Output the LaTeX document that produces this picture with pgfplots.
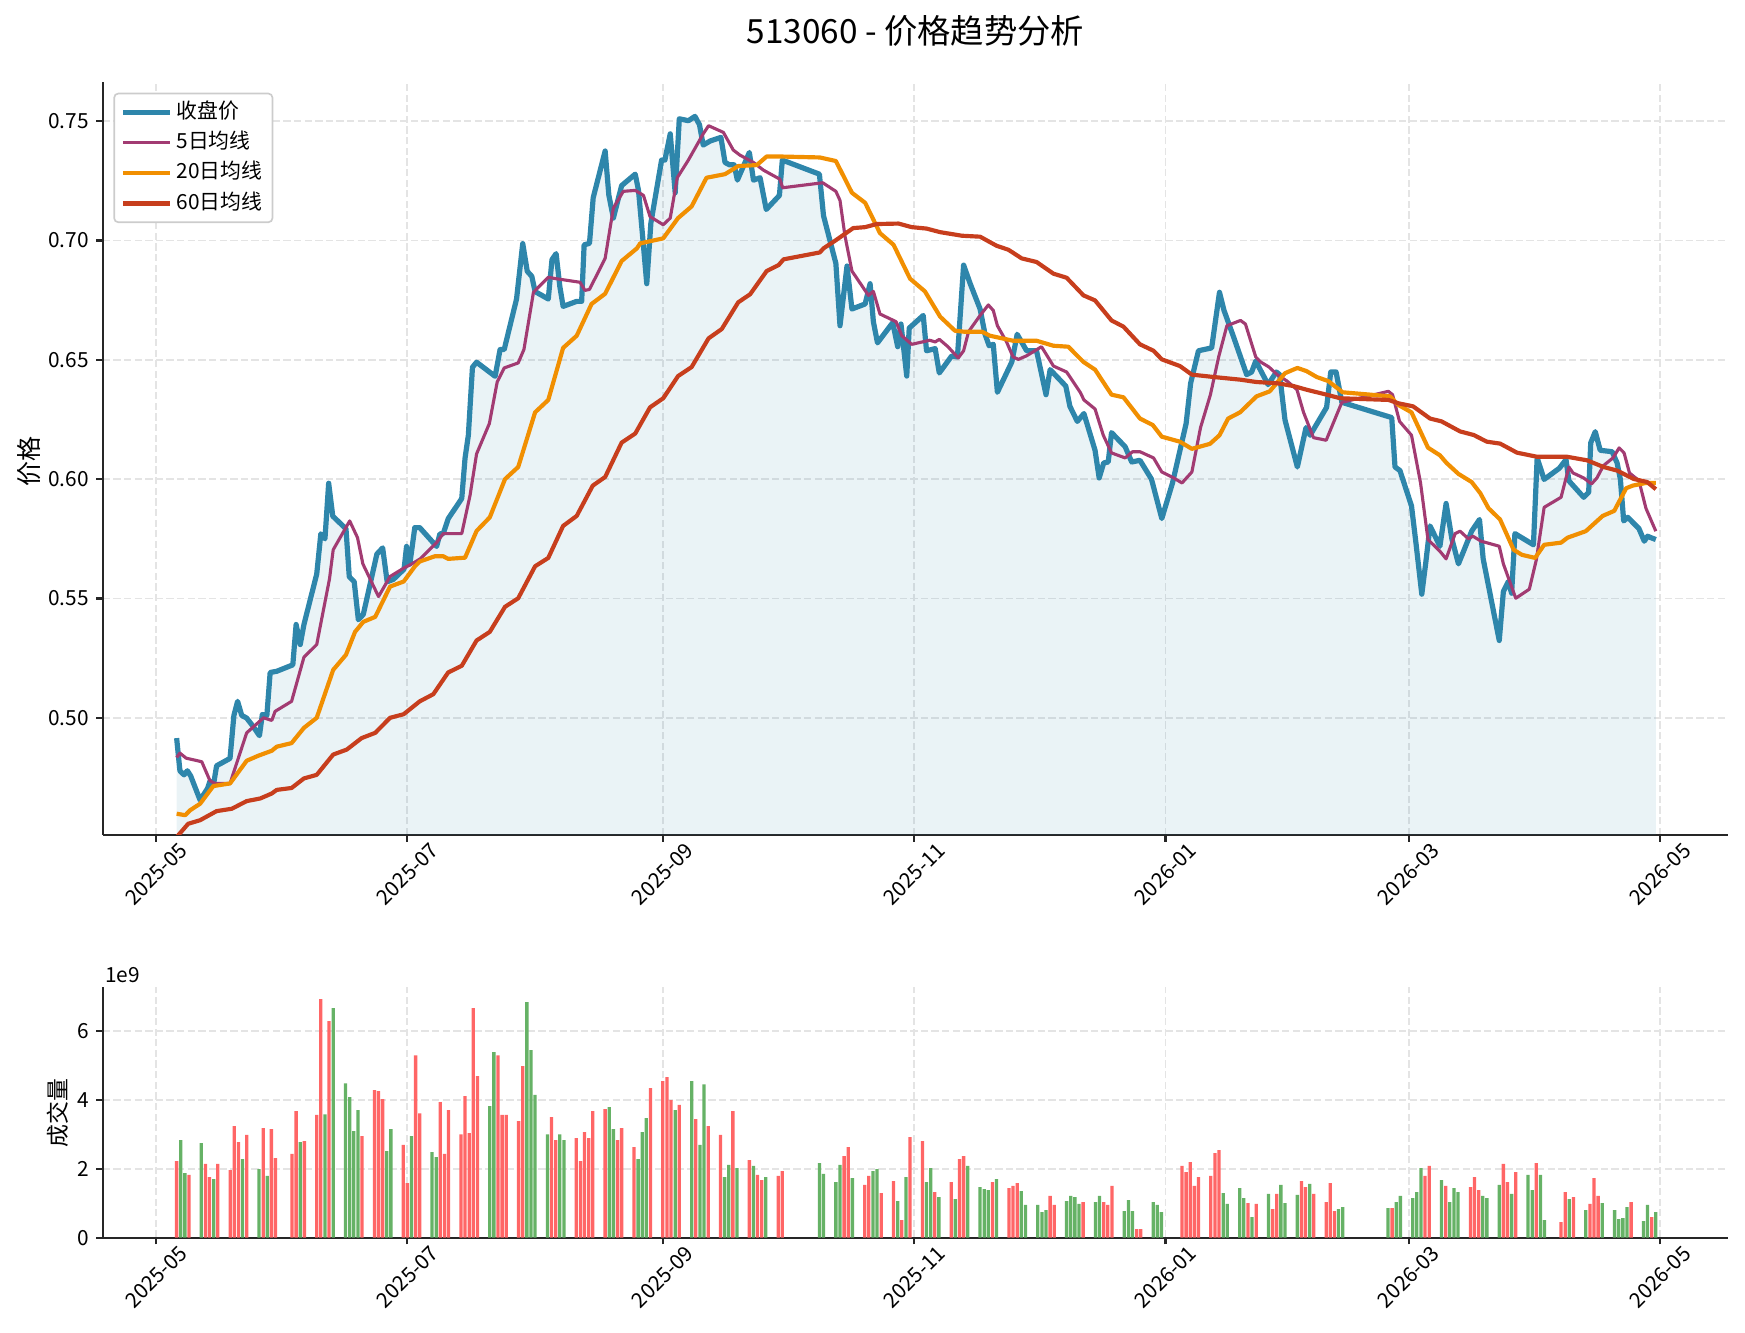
\documentclass[border=0pt]{standalone}
\usepackage{fontspec}
\setmainfont{Noto Sans CJK SC}
\usepackage{pgfplots}
\pgfplotsset{compat=1.18}
\definecolor{cClose}{HTML}{2E86AB}
\definecolor{cMAf}{HTML}{A23B72}
\definecolor{cMAt}{HTML}{F18F01}
\definecolor{cMAs}{HTML}{C73E1D}
\definecolor{upR}{HTML}{FF6666}
\definecolor{dnG}{HTML}{66B266}
\definecolor{gridc}{HTML}{E4E4E4}
\definecolor{spine}{HTML}{262626}
\pgfplotsset{
  base/.style={
    scale only axis, width=780.1pt,
    xmin=-12.94, xmax=381.5,
    axis lines*=left,
    axis line style={spine, line width=1pt},
    tick align=outside, major tick length=3.2pt,
    tick style={spine, line width=1pt},
    grid=major,
    major grid style={gridc, line width=0.9pt, dash pattern=on 3.5pt off 1.6pt},
    xtick={0,61,123,184,245,304,365},
    xticklabels={2025-05,2025-07,2025-09,2025-11,2026-01,2026-03,2026-05},
    ticklabel style={font=\fontsize{10}{12}\selectfont, text=black},
    x tick label style={anchor=center, yshift=-15.5pt, rotate=45},
    /pgf/number format/assume math mode=true,
    clip=true,
  }
}
\begin{document}
\begin{tikzpicture}
\useasboundingbox (0,0) rectangle (837.6pt,639.4pt);
\begin{axis}[base,
  at={(49.3pt,238.6pt)}, anchor=south west, height=361.3pt,
  ymin=0.4509, ymax=0.7663,
  ytick={0.50,0.55,0.60,0.65,0.70,0.75},
  yticklabel style={/pgf/number format/.cd, fixed, fixed zerofill, precision=2},
  legend style={at={(0,1)}, anchor=north west, xshift=5.1pt, yshift=-5pt,
    draw=black!20, line width=0.8pt, rounded corners=2pt, fill=white,
    font=\fontsize{10}{12}\selectfont, row sep=2.6pt, inner xsep=3pt, inner ysep=3pt,
    nodes={text height=7.8pt, text depth=2.2pt, inner ysep=1pt, inner xsep=2pt}},
  legend cell align=left,
  legend image code/.code={\draw[#1, line cap=butt] (0pt,0pt) -- (22.4pt,0pt);},
]
\addplot[draw=none, fill=cClose, fill opacity=0.1, forget plot] coordinates {
(5,0.4915)(5.8,0.4778)(6.8,0.4761)(7.6,0.4778)(8.4,0.4757)(10.7,0.4655)(12.5,0.4704)(13.1,0.4735)(13.9,0.4714)(14.7,0.4799)
(17.96,0.4830)(18.9,0.5010)(19.8,0.5069)(20.8,0.5010)(22.0,0.4999)(23.6,0.4963)(25.1,0.4925)(25.8,0.5014)(26.9,0.5010)(27.7,0.5190)
(29.3,0.5195)(33.2,0.5222)(34.0,0.5391)(35.0,0.5307)(35.9,0.5391)(39.0,0.5602)(40.0,0.5771)(41.0,0.5750)(41.9,0.5983)(42.9,0.5845)
(46.1,0.5792)(46.9,0.5591)(48.1,0.5570)(49.1,0.5411)(50.3,0.5433)(53.6,0.5686)(55.0,0.5712)(56.1,0.5570)(57.6,0.5580)(60.2,0.5623)
(60.8,0.5718)(61.6,0.5644)(62.8,0.5797)(64.0,0.5797)(68.1,0.5718)(68.9,0.5771)(69.7,0.5771)(70.9,0.5834)(74.2,0.5919)(75.0,0.6088)
(75.8,0.6184)(76.8,0.6469)(77.8,0.6490)(82.3,0.6431)(83.5,0.6543)(84.5,0.6543)(87.5,0.6755)(89.0,0.6987)(90.1,0.6871)(91.2,0.6850)
(92.0,0.6786)(95.2,0.6755)(96.1,0.6920)(97.1,0.6945)(98.0,0.6808)(98.8,0.6724)(102.1,0.6745)(103.3,0.6745)(103.9,0.6982)(105.2,0.6988)
(106.1,0.7179)(109.0,0.7375)(109.9,0.7190)(111.0,0.7094)(113.0,0.7230)(116.3,0.7278)(117.1,0.7210)(118.3,0.6978)(119.1,0.6819)(120.1,0.7073)
(122.7,0.7337)(123.5,0.7337)(124.8,0.7447)(126.0,0.7200)(127.0,0.7510)(129.2,0.7502)(130.8,0.7520)(131.9,0.7485)(132.8,0.7400)(134.5,0.7417)
(137.1,0.7432)(138.1,0.7327)(139.2,0.7317)(140.3,0.7317)(141.1,0.7253)(144.0,0.7369)(145.0,0.7253)(146.6,0.7263)(148.1,0.7130)(151.3,0.7189)
(152,0.7337)(161,0.7278)(162,0.7104)(165,0.6904)(166.0,0.6643)(167.7,0.6893)(168.9,0.6713)(172.1,0.6734)(173.3,0.6819)(174.1,0.6660)
(175.1,0.6571)(178.8,0.6656)(180.0,0.6555)(180.8,0.6650)(182.2,0.6432)(182.8,0.6633)(186.2,0.6686)(187.0,0.6538)(189.1,0.6547)(190.1,0.6445)
(193.1,0.6516)(194.5,0.6512)(196.0,0.6897)(197.6,0.6819)(200.0,0.6713)(201.2,0.6607)(202.2,0.6559)(203.2,0.6565)(204.2,0.6364)(207.7,0.6491)
(209.0,0.6607)(211.3,0.6538)(213.7,0.6538)(216.0,0.6354)(217.0,0.6459)(220.8,0.6390)(221.8,0.6305)(223.6,0.6242)(225.2,0.6275)(227.9,0.6121)
(228.9,0.6005)(230.0,0.6068)(231.1,0.6072)(231.9,0.6195)(235.2,0.6136)(236.8,0.6072)(238.8,0.6079)(241.6,0.6000)(244.1,0.5835)(246.7,0.5984)
(250.0,0.6233)(251.1,0.6402)(253.0,0.6538)(256.2,0.6550)(258.1,0.6783)(259.2,0.6707)(261.5,0.6597)(264.7,0.6438)(265.9,0.6449)(266.9,0.6495)
(269.9,0.6396)(271.9,0.6449)(272.7,0.6438)(274.0,0.6248)(277.0,0.6051)(279.1,0.6216)(280.1,0.6184)(284.1,0.6301)(285.1,0.6449)(286.4,0.6449)
(287.8,0.6322)(299.9,0.6258)(300.7,0.6051)(301.9,0.6036)(304.7,0.5888)(305.8,0.5730)(307.2,0.5518)(308.2,0.5655)(309.2,0.5804)(311.6,0.5719)
(313.1,0.5898)(314.5,0.5750)(316.1,0.5645)(319.3,0.5782)(321.2,0.5831)(322.1,0.5666)(326.0,0.5324)(327.0,0.5529)(328.2,0.5571)(329.0,0.5522)
(329.8,0.5772)(334.3,0.5725)(335.2,0.6089)(336.9,0.5999)(340.6,0.6046)(342.2,0.6082)(342.9,0.5993)(346.5,0.5924)(347.7,0.5945)(348.2,0.6152)
(349.3,0.6199)(350.5,0.6121)(353.4,0.6115)(354.6,0.6068)(355.4,0.5999)(356.2,0.5825)(357.2,0.5840)(359.9,0.5793)(361.2,0.5740)(362.0,0.5761)
(362.8,0.5755)(364,0.5747)
} \closedcycle;
\addplot[cClose, line width=2.5pt, line join=round] coordinates {
(5,0.4915)(5.8,0.4778)(6.8,0.4761)(7.6,0.4778)(8.4,0.4757)(10.7,0.4655)(12.5,0.4704)(13.1,0.4735)(13.9,0.4714)(14.7,0.4799)
(17.96,0.4830)(18.9,0.5010)(19.8,0.5069)(20.8,0.5010)(22.0,0.4999)(23.6,0.4963)(25.1,0.4925)(25.8,0.5014)(26.9,0.5010)(27.7,0.5190)
(29.3,0.5195)(33.2,0.5222)(34.0,0.5391)(35.0,0.5307)(35.9,0.5391)(39.0,0.5602)(40.0,0.5771)(41.0,0.5750)(41.9,0.5983)(42.9,0.5845)
(46.1,0.5792)(46.9,0.5591)(48.1,0.5570)(49.1,0.5411)(50.3,0.5433)(53.6,0.5686)(55.0,0.5712)(56.1,0.5570)(57.6,0.5580)(60.2,0.5623)
(60.8,0.5718)(61.6,0.5644)(62.8,0.5797)(64.0,0.5797)(68.1,0.5718)(68.9,0.5771)(69.7,0.5771)(70.9,0.5834)(74.2,0.5919)(75.0,0.6088)
(75.8,0.6184)(76.8,0.6469)(77.8,0.6490)(82.3,0.6431)(83.5,0.6543)(84.5,0.6543)(87.5,0.6755)(89.0,0.6987)(90.1,0.6871)(91.2,0.6850)
(92.0,0.6786)(95.2,0.6755)(96.1,0.6920)(97.1,0.6945)(98.0,0.6808)(98.8,0.6724)(102.1,0.6745)(103.3,0.6745)(103.9,0.6982)(105.2,0.6988)
(106.1,0.7179)(109.0,0.7375)(109.9,0.7190)(111.0,0.7094)(113.0,0.7230)(116.3,0.7278)(117.1,0.7210)(118.3,0.6978)(119.1,0.6819)(120.1,0.7073)
(122.7,0.7337)(123.5,0.7337)(124.8,0.7447)(126.0,0.7200)(127.0,0.7510)(129.2,0.7502)(130.8,0.7520)(131.9,0.7485)(132.8,0.7400)(134.5,0.7417)
(137.1,0.7432)(138.1,0.7327)(139.2,0.7317)(140.3,0.7317)(141.1,0.7253)(144.0,0.7369)(145.0,0.7253)(146.6,0.7263)(148.1,0.7130)(151.3,0.7189)
(152,0.7337)(161,0.7278)(162,0.7104)(165,0.6904)(166.0,0.6643)(167.7,0.6893)(168.9,0.6713)(172.1,0.6734)(173.3,0.6819)(174.1,0.6660)
(175.1,0.6571)(178.8,0.6656)(180.0,0.6555)(180.8,0.6650)(182.2,0.6432)(182.8,0.6633)(186.2,0.6686)(187.0,0.6538)(189.1,0.6547)(190.1,0.6445)
(193.1,0.6516)(194.5,0.6512)(196.0,0.6897)(197.6,0.6819)(200.0,0.6713)(201.2,0.6607)(202.2,0.6559)(203.2,0.6565)(204.2,0.6364)(207.7,0.6491)
(209.0,0.6607)(211.3,0.6538)(213.7,0.6538)(216.0,0.6354)(217.0,0.6459)(220.8,0.6390)(221.8,0.6305)(223.6,0.6242)(225.2,0.6275)(227.9,0.6121)
(228.9,0.6005)(230.0,0.6068)(231.1,0.6072)(231.9,0.6195)(235.2,0.6136)(236.8,0.6072)(238.8,0.6079)(241.6,0.6000)(244.1,0.5835)(246.7,0.5984)
(250.0,0.6233)(251.1,0.6402)(253.0,0.6538)(256.2,0.6550)(258.1,0.6783)(259.2,0.6707)(261.5,0.6597)(264.7,0.6438)(265.9,0.6449)(266.9,0.6495)
(269.9,0.6396)(271.9,0.6449)(272.7,0.6438)(274.0,0.6248)(277.0,0.6051)(279.1,0.6216)(280.1,0.6184)(284.1,0.6301)(285.1,0.6449)(286.4,0.6449)
(287.8,0.6322)(299.9,0.6258)(300.7,0.6051)(301.9,0.6036)(304.7,0.5888)(305.8,0.5730)(307.2,0.5518)(308.2,0.5655)(309.2,0.5804)(311.6,0.5719)
(313.1,0.5898)(314.5,0.5750)(316.1,0.5645)(319.3,0.5782)(321.2,0.5831)(322.1,0.5666)(326.0,0.5324)(327.0,0.5529)(328.2,0.5571)(329.0,0.5522)
(329.8,0.5772)(334.3,0.5725)(335.2,0.6089)(336.9,0.5999)(340.6,0.6046)(342.2,0.6082)(342.9,0.5993)(346.5,0.5924)(347.7,0.5945)(348.2,0.6152)
(349.3,0.6199)(350.5,0.6121)(353.4,0.6115)(354.6,0.6068)(355.4,0.5999)(356.2,0.5825)(357.2,0.5840)(359.9,0.5793)(361.2,0.5740)(362.0,0.5761)
(362.8,0.5755)(364,0.5747)
};
\addlegendentry{收盘价}
\addplot[cMAf, line width=1.5pt, line join=round] coordinates {
(5,0.4834)(5.8,0.4852)(7.3,0.4831)(11.1,0.4816)(13.1,0.4736)(14.3,0.4725)(17.96,0.4725)(22.0,0.4937)(26.1,0.5)(28.1,0.4989)
(28.9,0.5027)(32.9,0.5069)(35.9,0.5254)(39.0,0.5307)(42.1,0.5582)(43.0,0.5704)(47.0,0.5825)(48.9,0.5755)(50.2,0.5645)(54.0,0.5508)
(56.8,0.5592)(60.2,0.5628)(62.1,0.5645)(64.1,0.5666)(68.1,0.5734)(69.7,0.5772)(74.2,0.5772)(76.2,0.5931)(77.8,0.6106)(80.9,0.6233)
(82.8,0.6407)(84.5,0.6466)(87.9,0.6487)(89.3,0.6544)(91.6,0.6783)(95.2,0.6846)(97.1,0.684)(102.9,0.6825)(104.1,0.6791)(105.2,0.6795)
(109.0,0.6925)(111.0,0.7136)(113.4,0.7206)(116.3,0.721)(118.3,0.7189)(119.9,0.71)(123.1,0.7066)(124.8,0.7094)(126.5,0.7263)(129.2,0.7337)
(132.8,0.7447)(134.1,0.7481)(137.7,0.7453)(140.1,0.7379)(141.7,0.7358)(145.0,0.7327)(147.4,0.7295)(151.4,0.7257)(152.1,0.7221)(161.8,0.7242)
(165.0,0.7206)(166.0,0.7168)(167.2,0.702)(168.9,0.6872)(172.9,0.677)(174.1,0.6787)(175.7,0.6692)(179.6,0.666)(181.0,0.6601)(183.4,0.6565)
(187.8,0.6582)(189.1,0.6575)(190.1,0.6586)(192.2,0.6555)(194.7,0.6508)(196.0,0.6538)(197.2,0.6618)(200.0,0.6686)(202.0,0.673)(203.2,0.6707)
(204.2,0.6643)(206.4,0.6576)(208.0,0.6512)(209.3,0.6502)(211.3,0.6517)(214.9,0.6555)(215.7,0.6533)(217.8,0.6474)(221.0,0.6449)(224.3,0.6364)
(225.2,0.6332)(227.9,0.6294)(229.9,0.6184)(231.9,0.611)(235.2,0.6089)(237.0,0.6115)(238.8,0.6115)(242.1,0.6089)(244.1,0.603)(247.0,0.6005)
(249.0,0.5984)(251.4,0.603)(253.5,0.6216)(255.9,0.6354)(257.9,0.6512)(259.9,0.6643)(263.2,0.6665)(264.4,0.665)(266.9,0.6512)(268.1,0.6491)
(270.1,0.647)(272.1,0.6438)(274.5,0.6411)(276.9,0.6375)(278.5,0.628)(280.9,0.6174)(284.0,0.6163)(287.8,0.6322)(299.1,0.6368)(300.1,0.6354)
(301.8,0.6242)(304.7,0.6184)(306.9,0.5984)(308.7,0.5747)(311.6,0.5698)(313.1,0.5666)(315.3,0.5772)(316.5,0.5782)(318.5,0.575)(319.6,0.5761)
(321.6,0.574)(326.0,0.5719)(327.0,0.5645)(330.0,0.5501)(333.3,0.5539)(335.0,0.5662)(336.9,0.5882)(341.0,0.5924)(342.9,0.6051)(343.9,0.6026)
(346.5,0.6005)(348.4,0.598)(349.7,0.6005)(351.3,0.6057)(353.6,0.6089)(355.1,0.6131)(356.3,0.611)(357.6,0.6026)(359.9,0.5994)(361.6,0.5878)
(364,0.5782)
};
\addlegendentry{5日均线}
\addplot[cMAt, line width=2pt, line join=round] coordinates {
(5,0.4598)(7.1,0.4592)(8.3,0.4613)(10.7,0.464)(13.9,0.4714)(17.96,0.4725)(22.0,0.482)(24.8,0.4841)(28.1,0.4862)(29.3,0.4879)
(32.9,0.4894)(35.9,0.4958)(39.0,0.5)(43.0,0.5201)(46.1,0.5264)(48.3,0.536)(50.3,0.5402)(53.2,0.5423)(56.8,0.555)(60.1,0.5571)
(62.8,0.5634)(64.0,0.5655)(67.7,0.5677)(69.7,0.5677)(70.9,0.5666)(75.0,0.5671)(77.8,0.5783)(81.0,0.584)(84.7,0.6)(87.9,0.6051)
(92.0,0.628)(95.2,0.6332)(98.8,0.655)(102.1,0.6601)(105.7,0.6734)(109.0,0.6777)(113.0,0.6914)(116.7,0.6967)(117.5,0.6988)(123.1,0.7009)
(126.7,0.7094)(130.0,0.7143)(133.6,0.7263)(138.1,0.7278)(141.3,0.7312)(145.8,0.7316)(148.2,0.7352)(151.4,0.7352)(161.1,0.7348)(165.0,0.7333)
(168.9,0.72)(172.1,0.7158)(175.7,0.7031)(179.0,0.6982)(183.0,0.684)(186.6,0.6787)(190.3,0.6681)(193.9,0.6622)(196.0,0.6618)(200.4,0.6618)
(202.4,0.6601)(208.0,0.658)(213.7,0.658)(217.8,0.6559)(221.4,0.6555)(225.1,0.6491)(227.9,0.6459)(231.9,0.6354)(234.8,0.6343)(238.8,0.6254)
(241.9,0.6227)(244.1,0.6178)(248.5,0.6157)(251.4,0.6127)(255.8,0.6148)(258.1,0.6184)(260.2,0.6254)(263.1,0.628)(267.1,0.6347)(270.3,0.6368)
(274.0,0.6444)(277.0,0.6466)(279.2,0.6453)(281.7,0.6428)(284.5,0.6411)(288.0,0.6364)(299.5,0.6347)(301.5,0.6311)(304.7,0.628)(306.7,0.6206)
(308.7,0.6132)(311.6,0.61)(313.2,0.6068)(316.1,0.6022)(319.3,0.5988)(321.4,0.5941)(323.4,0.5878)(326.2,0.5831)(329.5,0.5704)(331.5,0.5683)
(334.7,0.567)(336.9,0.5725)(341.0,0.5734)(342.6,0.5755)(347.0,0.5782)(351.1,0.5846)(353.9,0.5867)(356.8,0.5962)(358.4,0.5973)(361.6,0.5984)
(364,0.5984)
};
\addlegendentry{20日均线}
\addplot[cMAs, line width=2pt, line join=round] coordinates {
(5,0.4500)(7.8,0.4556)(10.7,0.4571)(14.7,0.4609)(18.4,0.4619)(22.0,0.4651)(25.3,0.4662)(28.1,0.4683)(29.3,0.4698)(32.9,0.4706)
(35.9,0.4746)(39.0,0.4761)(43.0,0.4846)(46.3,0.4867)(49.9,0.4915)(53.2,0.4937)(56.8,0.5)(60.1,0.5015)(64.0,0.5069)(67.3,0.5099)
(70.9,0.519)(74.2,0.5218)(77.8,0.5324)(81.0,0.536)(84.7,0.5465)(87.9,0.5501)(92.0,0.5635)(95.2,0.567)(98.8,0.5804)(102.1,0.5846)
(106.0,0.5973)(109.0,0.6009)(113.0,0.6153)(116.3,0.6191)(119.9,0.6301)(123.1,0.6339)(126.7,0.6432)(130.0,0.647)(134.1,0.659)(137.3,0.6629)
(141.3,0.6741)(144.2,0.6775)(148.2,0.6872)(151.1,0.6897)(152.3,0.6921)(161.1,0.695)(162.0,0.6967)(164.8,0.6999)(169.2,0.7052)(172.1,0.7056)
(174.9,0.7069)(180.2,0.7071)(183.4,0.7056)(187.0,0.705)(190.3,0.7035)(195.6,0.702)(200.0,0.7016)(204.0,0.6978)(206.9,0.6961)(210.1,0.6925)
(213.7,0.691)(217.8,0.6861)(221.0,0.6844)(225.1,0.677)(227.9,0.6749)(231.9,0.6665)(234.8,0.6639)(238.8,0.6565)(242.1,0.6538)(244.1,0.6502)
(248.5,0.6474)(251.4,0.6438)(256.7,0.6428)(263.1,0.6417)(267.1,0.6407)(272.1,0.6402)(276.1,0.639)(279.2,0.6375)(284.1,0.6354)(287.4,0.6339)
(299.1,0.6332)(301.5,0.6318)(305.1,0.6305)(309.2,0.6254)(312.0,0.6242)(316.5,0.62)(319.8,0.6185)(323.0,0.6157)(326.2,0.6149)(330.3,0.6111)
(335.1,0.6094)(342.4,0.6094)(347.3,0.6079)(351.3,0.6051)(354.6,0.6036)(358.6,0.6001)(361.9,0.5988)(364,0.5958)
};
\addlegendentry{60日均线}
\end{axis}
\begin{axis}[base,
  at={(49.3pt,45.3pt)}, anchor=south west, height=120.3pt,
  ymin=0, ymax=7.27, ytick={0,2,4,6}, scaled y ticks=false,
]
\addplot[ybar, bar width=0.8, bar shift=0pt, fill=upR, draw=none] coordinates {
(5,2.22)(8,1.82)(12,2.14)(13,1.76)(15,2.14)(18,1.96)(19,3.24)(20,2.77)(22,2.98)(26,3.18)(28,3.15)(29,2.31)(33,2.43)(34,3.67)(36,2.80)
(39,3.56)(40,6.92)(42,6.28)(50,2.95)(53,4.28)(54,4.25)(55,4.02)(60,2.69)(61,1.58)(63,5.29)(64,3.61)(69,3.93)(70,2.43)(71,3.70)(74,3.00)
(75,4.11)(76,3.03)(77,6.66)(78,4.69)(83,5.29)(84,3.56)(85,3.56)(88,3.38)(89,4.98)(96,3.50)(97,2.83)(102,2.89)(103,2.22)(104,3.06)(105,2.89)
(106,3.67)(109,3.73)(112,2.83)(113,3.18)(116,2.63)(120,4.34)(123,4.54)(124,4.66)(125,3.99)(127,3.85)(131,3.44)(134,3.24)(137,2.98)(140,3.67)
(144,2.25)(146,1.82)(147,1.67)(151,1.79)(152,1.93)(167,2.37)(168,2.63)(172,1.53)(173,1.79)(176,1.29)(179,1.64)(181,0.51)(183,2.92)(186,2.80)
(189,1.32)(193,1.61)(195,2.28)(196,2.37)(203,1.61)(207,1.44)(208,1.50)(209,1.58)(217,1.21)(218,0.95)(225,1.03)(230,1.03)(231,0.95)(232,1.50)
(238,0.25)(239,0.25)(249,2.08)(250,1.90)(251,2.19)(252,1.50)(253,1.76)(256,1.79)(257,2.45)(258,2.54)(265,1.00)(267,0.98)(271,0.83)(272,1.27)
(278,1.64)(279,1.47)(281,1.27)(284,1.03)(285,1.58)(286,0.77)(300,0.86)(308,1.79)(309,2.08)(313,1.50)(319,1.47)(320,1.76)(321,1.38)(327,2.14)
(328,1.61)(330,1.90)(335,2.16)(341,0.45)(342,1.32)(344,1.18)(348,0.98)(349,1.73)(350,1.21)(358,1.03)(363,0.60)
};
\addplot[ybar, bar width=0.8, bar shift=0pt, fill=dnG, draw=none] coordinates {
(6,2.83)(7,1.87)(11,2.74)(14,1.70)(21,2.28)(25,1.99)(27,1.79)(35,2.77)(41,3.58)(43,6.66)(46,4.48)(47,4.08)(48,3.09)(49,3.70)(56,2.51)
(57,3.15)(62,2.95)(67,2.48)(68,2.34)(81,3.82)(82,5.38)(90,6.83)(91,5.44)(92,4.14)(95,3.00)(98,3.00)(99,2.83)(110,3.79)(111,3.15)(117,2.28)
(118,3.06)(119,3.47)(126,3.70)(130,4.54)(132,2.69)(133,4.45)(138,1.76)(139,2.11)(141,2.02)(145,2.08)(148,1.76)(161,2.16)(162,1.85)(165,1.61)
(166,2.11)(169,1.73)(174,1.93)(175,1.99)(180,1.06)(182,1.76)(187,1.61)(188,2.02)(190,1.18)(194,1.12)(197,2.08)(200,1.47)(201,1.41)(202,1.38)
(204,1.70)(210,1.35)(211,0.95)(214,0.95)(215,0.74)(216,0.80)(221,1.06)(222,1.21)(223,1.18)(224,0.98)(228,1.03)(229,1.21)(235,0.77)(236,1.09)
(237,0.77)(242,1.03)(243,0.95)(244,0.74)(259,1.29)(260,0.98)(263,1.44)(264,1.15)(266,0.60)(270,1.27)(273,1.53)(274,1.00)(277,1.24)(280,1.56)
(287,0.83)(288,0.89)(299,0.86)(301,1.03)(302,1.21)(305,1.15)(306,1.32)(307,2.02)(312,1.67)(314,1.03)(315,1.44)(316,1.32)(322,1.21)(323,1.15)
(326,1.53)(329,1.27)(333,1.82)(334,1.38)(336,1.82)(337,0.51)(343,1.12)(347,0.80)(351,1.00)(354,0.80)(355,0.54)(356,0.57)(357,0.89)(361,0.48)
(362,0.95)(364,0.74)
};
\end{axis}
\node[anchor=center, font=\fontsize{16}{19}\selectfont] at (439.35pt,624.6pt) {513060 - 价格趋势分析};
\node[anchor=center, rotate=90, font=\fontsize{12}{14}\selectfont] at (13.9pt,417.8pt) {价格};
\node[anchor=center, rotate=90, font=\fontsize{11}{13}\selectfont] at (27.6pt,105.1pt) {成交量};
\node[anchor=west, inner sep=0pt, font=\fontsize{10}{12}\selectfont] at (50.4pt,171.4pt) {1e9};
\end{tikzpicture}
\end{document}
